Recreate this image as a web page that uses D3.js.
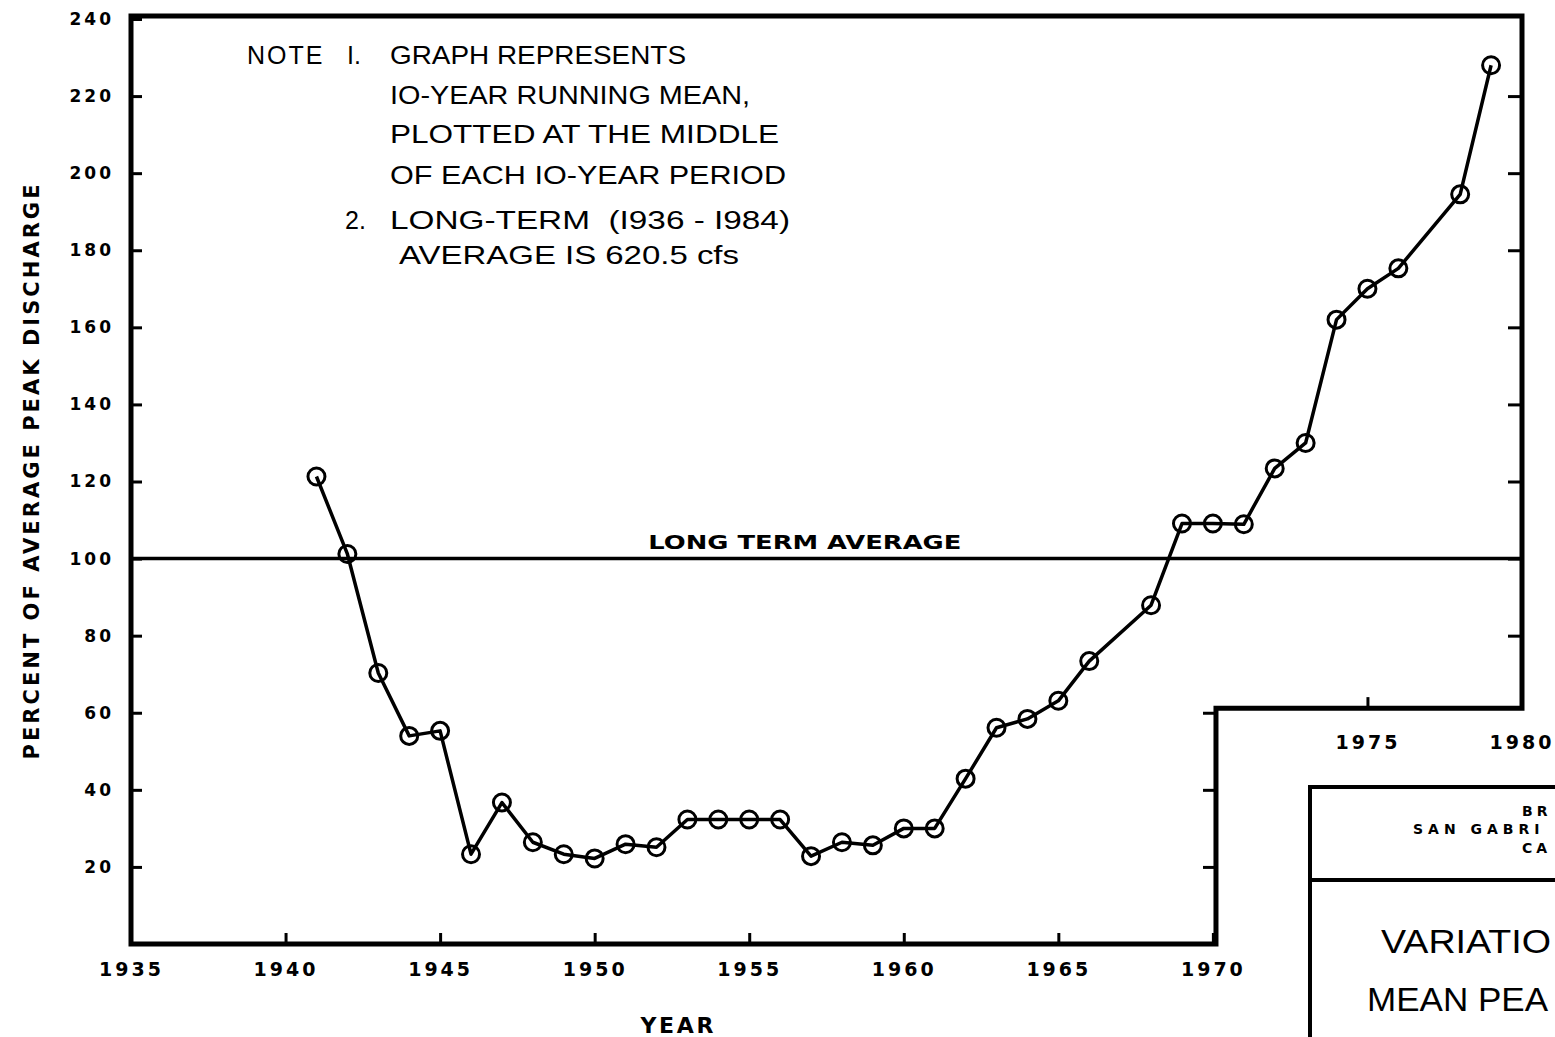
<!DOCTYPE html>
<html><head><meta charset="utf-8">
<script src="https://cdn.jsdelivr.net/npm/d3@7"></script>
<style>body{margin:0;background:#fff;overflow:hidden} svg{display:block}</style>
</head><body><svg id="c" width="1555" height="1037"></svg>
<script>
// ---- data ----
const years  = [1941,1942,1943,1944,1945,1946,1947,1948,1949,1950,1951,1952,1953,1954,1955,1956,1957,1958,1959,1960,1961,1962,1963,1964,1965,1966,1968,1969,1970,1971,1972,1973,1974,1975,1976,1978,1979];
const values = [121.3,101.2,70.3,54,55.3,23.3,36.7,26.4,23.3,22.2,25.9,25.1,32.3,32.3,32.3,32.3,22.8,26.4,25.6,30,30,42.9,56.1,58.4,63.1,73.4,87.9,109.1,109.1,108.9,123.4,130,162,170,175.3,194.5,228];
const yTickValues = [20,40,60,80,100,120,140,160,180,200,220,240];
const xTickLower = [1935,1940,1945,1950,1955,1960,1965,1970];
const xTickUpper = [1975,1980];
const longTermAverage = 100;
const longTermLabel = "LONG TERM AVERAGE";
const xTitle = "YEAR";
const yTitle = "PERCENT OF AVERAGE PEAK DISCHARGE";
const noteLines = [
  {lead:"NOTE", num:"I.", text:"GRAPH REPRESENTS"},
  {lead:"", num:"", text:"IO-YEAR RUNNING MEAN,"},
  {lead:"", num:"", text:"PLOTTED AT THE MIDDLE"},
  {lead:"", num:"", text:"OF EACH IO-YEAR PERIOD"},
  {lead:"", num:"2.", text:"LONG-TERM  (I936 - I984)"},
  {lead:"", num:"", text:"AVERAGE IS 620.5 cfs"}
];
const titleSmall = ["BR","SAN GABRI","CA"];
const titleBig = ["VARIATIO","MEAN PEA"];

// ---- scales ----
const x = d3.scaleLinear().domain([1935,1980]).range([131,1522]);
const y = d3.scaleLinear().domain([0,240]).range([944,19]);
const svg = d3.select("#c");
const BOLD = "'DejaVu Sans', sans-serif";
const REG = "'Liberation Sans', Arial, sans-serif";

const notchValue = 61.2;
const frameRight = x(1980);
const x0 = x(1935), yTop = y(240) - 3, yBot = y(0), notchY = y(notchValue), notchX = x(1970.1);

// frame
svg.append("path")
  .attr("d", `M${x0},${yTop}H${frameRight}V${notchY}H${notchX}V${yBot}H${x0}Z`)
  .attr("fill","none").attr("stroke","#000").attr("stroke-width",5).attr("stroke-linejoin","miter");

function styleTicks(g){ g.select(".domain").remove(); g.selectAll("line").attr("stroke","#000").attr("stroke-width",3); }
function styleLabels(g,size,ls){
  g.selectAll("text").attr("font-family",BOLD).attr("font-weight","bold").attr("font-size",size)
   .attr("letter-spacing",ls+"px").attr("fill","#000");
}

// left axis
const gl = svg.append("g").attr("transform",`translate(${x0},0)`)
  .call(d3.axisLeft(y).tickValues(yTickValues).tickSize(-11).tickPadding(17));
styleTicks(gl); styleLabels(gl,17,3);

// right frame ticks
const gr = svg.append("g").attr("transform",`translate(${frameRight},0)`)
  .call(d3.axisRight(y).tickValues(yTickValues.filter(v=>v>notchValue && v<240)).tickSize(-14).tickFormat(""));
styleTicks(gr);
const gn = svg.append("g").attr("transform",`translate(${notchX},0)`)
  .call(d3.axisRight(y).tickValues(yTickValues.filter(v=>v<notchValue)).tickSize(-13).tickFormat(""));
styleTicks(gn);

// bottom axis
const gb = svg.append("g").attr("transform",`translate(0,${yBot})`)
  .call(d3.axisBottom(x).tickValues(xTickLower).tickSize(-11).tickPadding(19).tickFormat(d3.format("d")));
styleTicks(gb); styleLabels(gb,19,3);

// upper (notch) axis
const gu = svg.append("g").attr("transform",`translate(0,${notchY})`)
  .call(d3.axisBottom(x).tickValues(xTickUpper).tickSize(-11).tickPadding(27).tickFormat(d3.format("d")));
styleTicks(gu); styleLabels(gu,19,3);
gu.selectAll(".tick").filter(d=>d===1980).select("text").attr("text-anchor","end").attr("x",32);

// long-term average line
svg.append("line").attr("x1",x0).attr("x2",frameRight)
  .attr("y1",y(longTermAverage)).attr("y2",y(longTermAverage))
  .attr("stroke","#000").attr("stroke-width",3.5);
svg.append("text").attr("x",x(1956.8)).attr("y",y(longTermAverage)-10)
  .attr("text-anchor","middle").attr("font-family",BOLD).attr("font-weight","bold")
  .attr("font-size",19).attr("textLength",313).attr("lengthAdjust","spacingAndGlyphs").text(longTermLabel);

// data line + markers
const data = years.map((yr,i)=>({year:yr,value:values[i]}));
svg.append("path").datum(data)
  .attr("d", d3.line().x(d=>x(d.year)).y(d=>y(d.value)))
  .attr("fill","none").attr("stroke","#000").attr("stroke-width",3.5).attr("stroke-linejoin","round");
svg.selectAll("circle.pt").data(data).join("circle").attr("class","pt")
  .attr("cx",d=>x(d.year)).attr("cy",d=>y(d.value)).attr("r",8.5)
  .attr("fill","none").attr("stroke","#000").attr("stroke-width",3);

// axis titles
svg.append("text").attr("transform",`translate(33,472) rotate(-90)`)
  .attr("text-anchor","middle").attr("dominant-baseline","middle")
  .attr("font-family",BOLD).attr("font-weight","bold").attr("font-size",21)
  .attr("textLength",575).attr("lengthAdjust","spacing").text(yTitle);
svg.append("text").attr("x",677).attr("y",1033).attr("text-anchor","middle")
  .attr("font-family",BOLD).attr("font-weight","bold").attr("font-size",22)
  .attr("textLength",73).attr("lengthAdjust","spacing").text(xTitle);

// notes
const noteY = [64, 104, 143, 184, 229, 264];
const noteX = [390, 390, 390, 390, 390, 399];
const noteW = [296, 360, 389, 396, 400, 340];
const nt = svg.append("g").attr("font-family",REG).attr("font-size",25).attr("fill","#000");
noteLines.forEach((l,i)=>{
  if(l.lead) nt.append("text").attr("x",247).attr("y",noteY[i]).attr("letter-spacing","2px").text(l.lead);
  if(l.num) nt.append("text").attr("x",i===0?347:345).attr("y",noteY[i]).text(l.num);
  nt.append("text").attr("x",noteX[i]).attr("y",noteY[i]).attr("xml:space","preserve")
    .attr("textLength",noteW[i]).attr("lengthAdjust","spacingAndGlyphs").text(l.text);
});

// title block (cropped at page edge)
svg.append("path").attr("d","M1310,1045V787H1565M1310,880H1565")
  .attr("fill","none").attr("stroke","#000").attr("stroke-width",4);
const ts = svg.append("g").attr("font-family",BOLD).attr("font-weight","bold").attr("font-size",14).attr("letter-spacing","4px");
ts.append("text").attr("x",1522).attr("y",816).text(titleSmall[0]);
ts.append("text").attr("x",1413).attr("y",834).attr("letter-spacing","5px").text(titleSmall[1]);
ts.append("text").attr("x",1522).attr("y",853).text(titleSmall[2]);
const tb = svg.append("g").attr("font-family",REG).attr("font-size",34);
tb.append("text").attr("x",1381).attr("y",953).attr("textLength",170).attr("lengthAdjust","spacingAndGlyphs").text(titleBig[0]);
tb.append("text").attr("x",1367).attr("y",1011).attr("textLength",181).attr("lengthAdjust","spacingAndGlyphs").text(titleBig[1]);
</script></body></html>
